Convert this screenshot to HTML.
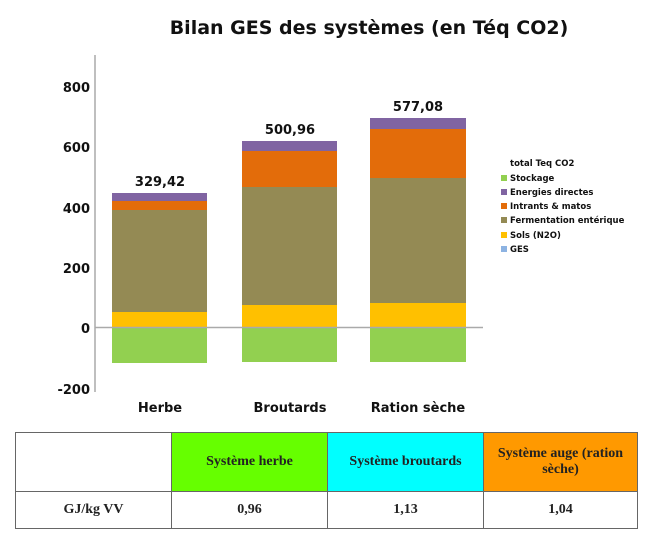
<!DOCTYPE html>
<html><head><meta charset="utf-8"><style>
body{margin:0;width:652px;height:548px;background:#fff;overflow:hidden;position:relative}
svg{position:absolute;left:0;top:0}
table{position:absolute;left:15px;top:432px;width:623px;border-collapse:collapse;font-family:"Liberation Serif",serif;font-weight:bold;font-size:14px;color:#222}
td{border:1.5px solid #666;text-align:center;padding:0;line-height:16px}
</style></head><body>
<svg width="652" height="430" font-family="DejaVu Sans, Liberation Sans, sans-serif" font-weight="bold">
<text x="369" y="34" font-size="19" text-anchor="middle" fill="#111">Bilan GES des systèmes (en Téq CO2)</text>
<line x1="95" y1="55" x2="95" y2="392" stroke="#aaa" stroke-width="1.5"/>
<g font-size="13" fill="#111" text-anchor="end">
<text x="90" y="92">800</text><text x="90" y="152">600</text><text x="90" y="213">400</text>
<text x="90" y="273">200</text><text x="90" y="333">0</text><text x="90" y="394">-200</text></g>
<rect x="112" y="327" width="95" height="36" fill="#92d050"/>
<rect x="112" y="312" width="95" height="15" fill="#ffc000"/>
<rect x="112" y="210" width="95" height="102" fill="#948a54"/>
<rect x="112" y="201" width="95" height="9" fill="#e36c0a"/>
<rect x="112" y="193" width="95" height="8" fill="#8064a2"/>
<rect x="242" y="327" width="95" height="35" fill="#92d050"/>
<rect x="242" y="305" width="95" height="22" fill="#ffc000"/>
<rect x="242" y="187" width="95" height="118" fill="#948a54"/>
<rect x="242" y="151" width="95" height="36" fill="#e36c0a"/>
<rect x="242" y="141" width="95" height="10" fill="#8064a2"/>
<rect x="370" y="327" width="96" height="35" fill="#92d050"/>
<rect x="370" y="303" width="96" height="24" fill="#ffc000"/>
<rect x="370" y="178" width="96" height="125" fill="#948a54"/>
<rect x="370" y="129" width="96" height="49" fill="#e36c0a"/>
<rect x="370" y="118" width="96" height="11" fill="#8064a2"/>
<line x1="95" y1="327.5" x2="483" y2="327.5" stroke="#aaa" stroke-width="1.5"/>
<g font-size="13" fill="#111" text-anchor="middle">
<text x="160" y="186">329,42</text><text x="290" y="134">500,96</text><text x="418" y="111">577,08</text>
<text x="160" y="412">Herbe</text><text x="290" y="412">Broutards</text><text x="418" y="412">Ration sèche</text></g>
<g font-size="8.5" fill="#111">
<text x="510" y="166">total Teq CO2</text>
<rect x="501" y="175" width="6" height="6" fill="#92d050"/><text x="510" y="181">Stockage</text>
<rect x="501" y="189" width="6" height="6" fill="#8064a2"/><text x="510" y="195">Energies directes</text>
<rect x="501" y="203" width="6" height="6" fill="#e36c0a"/><text x="510" y="209">Intrants &amp; matos</text>
<rect x="501" y="217" width="6" height="6" fill="#948a54"/><text x="510" y="223">Fermentation entérique</text>
<rect x="501" y="232" width="6" height="6" fill="#ffc000"/><text x="510" y="238">Sols (N2O)</text>
<rect x="501" y="246" width="6" height="6" fill="#8db3e2"/><text x="510" y="252">GES</text>
</g>
</svg>
<table>
<tr style="height:59px"><td style="width:155px"></td><td style="width:155px;background:#66ff00">Système herbe</td><td style="width:155px;background:#00ffff">Système broutards</td><td style="background:#ff9900">Système auge (ration sèche)</td></tr>
<tr style="height:37px"><td>GJ/kg VV</td><td>0,96</td><td>1,13</td><td>1,04</td></tr>
</table>
</body></html>
